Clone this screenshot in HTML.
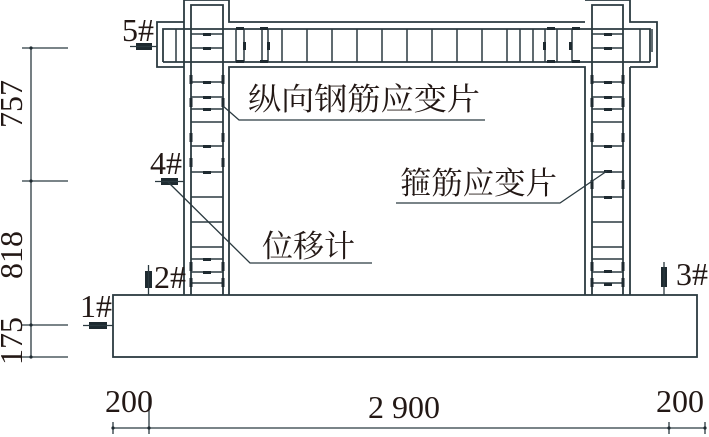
<!DOCTYPE html>
<html><head><meta charset="utf-8"><style>
html,body{margin:0;padding:0;background:#fff;}
svg{display:block;}
text{font-family:"Liberation Serif","Noto Serif CJK SC",serif;fill:#231815;}
.cn{font-family:"Liberation Serif","Noto Serif CJK SC",serif;}
</style></head><body>
<svg width="709" height="437" viewBox="0 0 709 437" xmlns="http://www.w3.org/2000/svg">
<g stroke="#2b3a40" stroke-width="1.8" fill="none">
<rect x="113" y="295" width="584" height="62"/>
<path d="M184 295 V0 M229 295 V67 H585 V295 M630 295 V67 M184 0 V22 H157 V67 H184 M229 0 V22 H585 M630 0 V22 H657 V67 H630"/>
<path d="M184 0 H229 M585 0 H630"/>
<path d="M191 295 V5 H223 V295 M592 295 V5 H623 V295"/>
<path d="M163 62 V29 H650 V62 M163 62 H650" />
</g>
<g stroke="#2b3a40" stroke-width="1.5">
<path d="M191 34H223 M191 48H223 M191 82H223 M191 97H223 M191 109H223 M191 122H223 M191 146H223 M191 172H223 M191 197H223 M191 222H223 M191 247H223 M191 259H223 M191 272H223 M191 283H223"/>
<path d="M592 34H623 M592 48H623 M592 82H623 M592 97H623 M592 109H623 M592 122H623 M592 146H623 M592 172H623 M592 197H623 M592 222H623 M592 247H623 M592 259H623 M592 272H623 M592 283H623"/>
<path d="M176 29V62 M236 29V62 M244 29V62 M262 29V62 M268 29V62 M282 29V62 M307 29V62 M332 29V62 M357 29V62 M382 29V62 M407 29V62 M432 29V62 M457 29V62 M482 29V62 M507 29V62 M520 29V62 M533 29V62 M545 29V62 M557 29V62 M572 29V62 M640 29V62 M652 29V52"/>
</g>
<g fill="#1e2a30">
<rect x="203" y="33" width="8" height="3"/><rect x="203" y="47" width="8" height="3"/><rect x="203" y="81" width="8" height="3"/><rect x="203" y="96" width="8" height="3"/><rect x="203" y="108" width="8" height="3"/><rect x="203" y="145" width="8" height="3"/><rect x="203" y="171" width="8" height="3"/><rect x="203" y="258" width="8" height="3"/><rect x="203" y="271" width="8" height="3"/>
<rect x="604" y="33" width="8" height="3"/><rect x="604" y="47" width="8" height="3"/><rect x="604" y="81" width="8" height="3"/><rect x="604" y="96" width="8" height="3"/><rect x="604" y="108" width="8" height="3"/><rect x="604" y="145" width="8" height="3"/><rect x="604" y="170" width="8" height="3"/><rect x="604" y="196" width="8" height="3"/><rect x="604" y="270" width="8" height="3"/><rect x="604" y="283" width="8" height="3"/>
<rect x="189.5" y="75" width="3" height="9"/><rect x="221.5" y="75" width="3" height="9"/><rect x="189.5" y="98" width="3" height="9"/><rect x="221.5" y="98" width="3" height="9"/><rect x="189.5" y="133" width="3" height="9"/><rect x="221.5" y="133" width="3" height="9"/><rect x="189.5" y="158" width="3" height="9"/><rect x="221.5" y="158" width="3" height="9"/><rect x="189.5" y="262" width="3" height="9"/><rect x="221.5" y="262" width="3" height="9"/><rect x="189.5" y="278" width="3" height="9"/><rect x="221.5" y="278" width="3" height="9"/>
<rect x="590.5" y="75" width="3" height="9"/><rect x="621.5" y="75" width="3" height="9"/><rect x="590.5" y="98" width="3" height="9"/><rect x="621.5" y="98" width="3" height="9"/><rect x="590.5" y="133" width="3" height="9"/><rect x="621.5" y="133" width="3" height="9"/><rect x="590.5" y="180" width="3" height="9"/><rect x="621.5" y="180" width="3" height="9"/><rect x="590.5" y="262" width="3" height="9"/><rect x="621.5" y="262" width="3" height="9"/><rect x="590.5" y="278" width="3" height="9"/><rect x="621.5" y="278" width="3" height="9"/>
<rect x="236" y="27" width="8" height="3"/><rect x="236" y="60" width="8" height="3"/><rect x="260" y="27" width="8" height="3"/><rect x="260" y="60" width="8" height="3"/><rect x="243" y="42" width="3" height="8"/><rect x="267" y="42" width="3" height="8"/>
<rect x="547" y="27" width="8" height="3"/><rect x="547" y="60" width="8" height="3"/><rect x="572" y="27" width="8" height="3"/><rect x="572" y="60" width="8" height="3"/><rect x="543" y="42" width="3" height="8"/><rect x="569" y="42" width="3" height="8"/>
<rect x="136" y="43" width="16" height="7"/><rect x="161" y="178" width="17" height="7"/><rect x="89" y="322" width="18" height="7"/><rect x="145" y="271" width="7" height="17"/><rect x="661" y="267" width="6" height="20"/>
</g>
<g stroke="#2b3a40" stroke-width="1.3" fill="none">
<path d="M130 46.5H157 M155 181.5H184 M83 325.5H113 M148.5 265V295 M664 262V295"/>
<path d="M223 106 L239 120 H485"/>
<path d="M607 171 L560 203 H396"/>
<path d="M168 182 L250 263 H372"/>
<path d="M31 48V357 M22 48H68 M22 181H68 M22 325H68 M22 357H68"/>
<path d="M113 428H705 M113 422V434 M149 395V434 M669 422V434 M705 422V434"/>
</g>
<g fill="#1e2a30"><circle cx="31" cy="48" r="1.6"/><circle cx="31" cy="181" r="1.6"/><circle cx="31" cy="325" r="1.6"/><circle cx="31" cy="357" r="1.6"/><circle cx="113" cy="428" r="1.6"/><circle cx="149" cy="428" r="1.6"/><circle cx="669" cy="428" r="1.6"/><circle cx="705" cy="428" r="1.6"/></g>
<text class="cn" x="248" y="110" font-size="31" textLength="232" lengthAdjust="spacingAndGlyphs">纵向钢筋应变片</text>
<text class="cn" x="400" y="194" font-size="31" textLength="157" lengthAdjust="spacingAndGlyphs">箍筋应变片</text>
<text class="cn" x="262" y="257" font-size="31" textLength="93" lengthAdjust="spacingAndGlyphs">位移计</text>
<g font-size="32">
<text x="122" y="41">5#</text>
<text x="150" y="174">4#</text>
<text x="154" y="288">2#</text>
<text x="80" y="317">1#</text>
<text x="676" y="285">3#</text>
<text x="105" y="412">200</text>
<text x="368" y="418">2 900</text>
<text x="656" y="412">200</text>
<text transform="translate(22,104) rotate(-90)" text-anchor="middle">757</text>
<text transform="translate(22,255) rotate(-90)" text-anchor="middle">818</text>
<text transform="translate(22,341) rotate(-90)" text-anchor="middle">175</text>
</g>
</svg>
</body></html>
